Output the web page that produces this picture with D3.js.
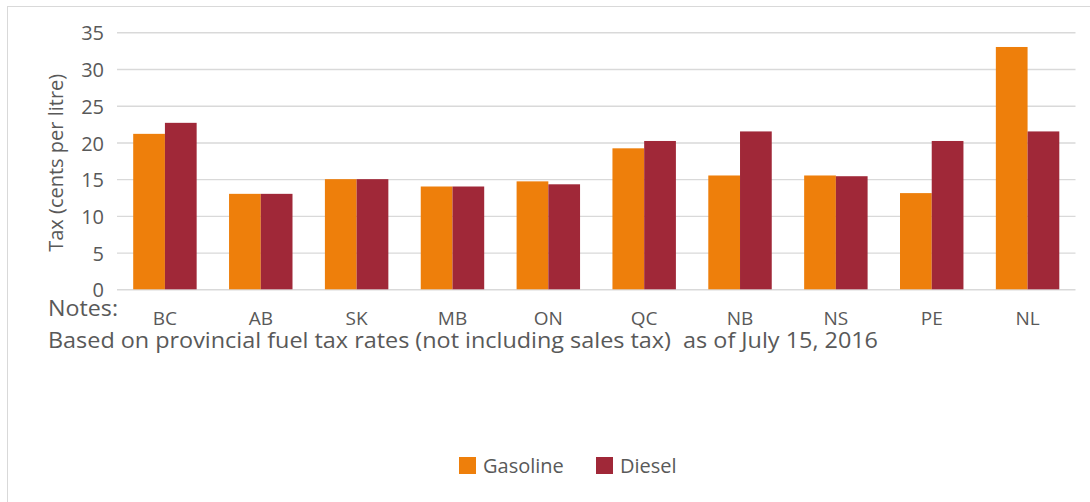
<!DOCTYPE html>
<html>
<head>
<meta charset="utf-8">
<script src="https://cdn.jsdelivr.net/npm/d3@7"></script>
<style>
  html, body { margin: 0; padding: 0; background: #fff; }
  svg { display: block; }
  text { font-family: "Open Sans", "Noto Sans", sans-serif; fill: #595959; }
</style>
</head>
<body>
<svg id="chart" width="1090" height="502"></svg>
<script>
// Provincial fuel tax rates, cents per litre
const provinces = ["BC", "AB", "SK", "MB", "ON", "QC", "NB", "NS", "PE", "NL"];
const gasoline  = [21.17, 13.0, 15.0, 14.0, 14.7, 19.2, 15.5, 15.5, 13.1, 33.0];
const diesel    = [22.67, 13.0, 15.0, 14.0, 14.3, 20.2, 21.5, 15.4, 20.2, 21.5];
const seriesNames = ["Gasoline", "Diesel"];
const seriesColors = ["#EE7F0B", "#A02838"];
const yTicks = [0, 5, 10, 15, 20, 25, 30, 35];

const svg = d3.select("#chart");

// chart frame
svg.append("rect")
  .attr("x", 7.5).attr("y", 6.5)
  .attr("width", 1200).attr("height", 600)
  .attr("fill", "none").attr("stroke", "#d9d9d9").attr("stroke-width", 1);

const plot = { left: 117, right: 1075.5, top: 32.3, bottom: 289.3 };

const x = d3.scaleBand()
  .domain(provinces)
  .range([plot.left, plot.right])
  .paddingInner(0.338)
  .paddingOuter(0.169);

const xs = d3.scaleBand()
  .domain(seriesNames)
  .range([0, x.bandwidth()]);

const y = d3.scaleLinear()
  .domain([0, 35])
  .range([plot.bottom, plot.top]);

// gridlines and y tick labels
const yAxis = svg.append("g")
  .attr("transform", `translate(${plot.left},0)`)
  .call(d3.axisLeft(y)
    .tickValues(yTicks)
    .tickSizeInner(-(plot.right - plot.left))
    .tickSizeOuter(0)
    .tickPadding(13));
yAxis.select(".domain").remove();
yAxis.selectAll(".tick line").attr("stroke", "#d9d9d9").attr("stroke-width", 1.4);
yAxis.selectAll(".tick text")
  .style("font-family", "'Open Sans', sans-serif")
  .attr("font-size", 20)
  .attr("fill", "#595959")
  .attr("dy", "0.38em");

// bars
const rows = provinces.map((p, i) => ({ p, values: [gasoline[i], diesel[i]] }));
const groups = svg.append("g").selectAll("g")
  .data(rows)
  .join("g")
  .attr("transform", d => `translate(${x(d.p)},0)`);

groups.selectAll("rect")
  .data(d => d.values.map((v, k) => ({ name: seriesNames[k], v, k })))
  .join("rect")
  .attr("x", d => xs(d.name))
  .attr("width", xs.bandwidth())
  .attr("y", d => y(d.v))
  .attr("height", d => y(0) - y(d.v))
  .attr("fill", d => seriesColors[d.k]);

// category labels
const xAxis = svg.append("g")
  .attr("transform", `translate(0,${plot.bottom})`)
  .call(d3.axisBottom(x).tickSize(0).tickPadding(22));
xAxis.select(".domain").remove();
xAxis.selectAll(".tick text")
  .style("font-family", "'Open Sans', sans-serif")
  .attr("font-size", 19)
  .attr("fill", "#595959");

// y axis title
svg.append("text")
  .attr("transform", `translate(55,${(plot.top + plot.bottom) / 2 + 2}) rotate(-90)`)
  .attr("text-anchor", "middle")
  .attr("dominant-baseline", "central")
  .attr("font-size", 20)
  .text("Tax (cents per litre)");

// notes
svg.append("text")
  .attr("x", 48).attr("y", 316)
  .attr("font-size", 21)
  .attr("textLength", 70)
  .attr("lengthAdjust", "spacingAndGlyphs")
  .text("Notes:");
svg.append("text")
  .attr("x", 48).attr("y", 348)
  .attr("font-size", 21.5)
  .attr("textLength", 830)
  .attr("lengthAdjust", "spacingAndGlyphs")
  .style("white-space", "pre")
  .text("Based on provincial fuel tax rates (not including sales tax)  as of July 15, 2016");

// legend
const legendX = [459, 596];
const legend = svg.append("g");
seriesNames.forEach((name, k) => {
  legend.append("rect")
    .attr("x", legendX[k]).attr("y", 457)
    .attr("width", 17).attr("height", 17)
    .attr("fill", seriesColors[k]);
  legend.append("text")
    .attr("x", legendX[k] + 24).attr("y", 473)
    .attr("font-size", 20)
    .text(name);
});
</script>
</body>
</html>
